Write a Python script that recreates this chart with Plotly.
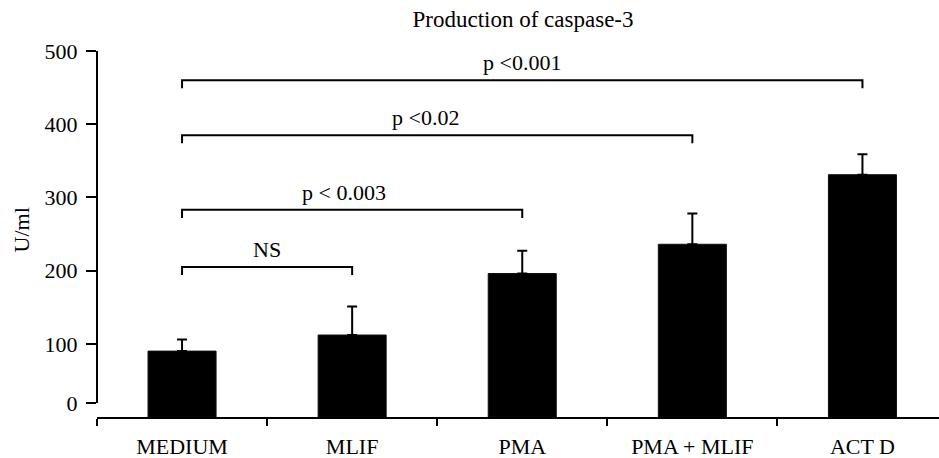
import plotly.graph_objects as go

categories = ["MEDIUM", "MLIF", "PMA", "PMA + MLIF", "ACT D"]
means = [90, 112, 196, 236, 331]
errors = [16, 39, 31, 42, 28]

y_tick_values = [0, 100, 200, 300, 400, 500]
y_tick_labels = ["0", "100", "200", "300", "400", "500"]

# significance brackets: (from index, to index, level, label)
bracket_from = [0, 0, 0, 0]
bracket_to = [1, 2, 3, 4]
bracket_level = [205, 283, 385, 460]
bracket_label = ["NS", "p < 0.003", "p <0.02", "p <0.001"]
label_xshift = [0, -8, -12, 0]

FONT = "Liberation Serif"
ZERO_OFFSET = 19   # Prism-style offset of the 0 tick
DROP = 11

fig = go.Figure()
fig.add_trace(go.Bar(
    x=categories, y=means, width=0.4,
    marker=dict(color="black", line=dict(color="#111", width=1)),
    error_y=dict(type="data", array=errors, arrayminus=[0]*len(errors),
                 symmetric=False, color="black", thickness=2, width=5),
    showlegend=False, hoverinfo="skip",
))

for f, t, lvl, lab, xs in zip(bracket_from, bracket_to, bracket_level,
                               bracket_label, label_xshift):
    fig.add_trace(go.Scatter(
        x=[categories[f], categories[f], categories[t], categories[t]],
        y=[lvl - DROP, lvl, lvl, lvl - DROP],
        mode="lines", line=dict(color="black", width=2),
        showlegend=False, hoverinfo="skip",
    ))
    fig.add_annotation(x=(f + t) / 2, y=lvl, text=lab, showarrow=False,
                       yanchor="bottom", yshift=3, xshift=xs,
                       font=dict(family=FONT, size=22, color="black"))

# y axis line (offset from x axis)
fig.add_shape(type="line", xref="paper", yref="y", x0=0, x1=0,
              y0=ZERO_OFFSET, y1=max(y_tick_values),
              line=dict(color="black", width=2))

fig.add_annotation(xref="paper", yref="paper", x=0, y=0.511, xshift=-90,
                   text="U/ml", textangle=-90, showarrow=False,
                   font=dict(family=FONT, size=22, color="black"))

tickvals = [v if v != 0 else ZERO_OFFSET for v in y_tick_values]

fig.update_layout(
    width=939, height=458,
    margin=dict(l=97, r=0, t=51, b=41),
    paper_bgcolor="white", plot_bgcolor="white",
    font=dict(family=FONT, size=22, color="black"),
    title=dict(text="Production of caspase-3", x=0.557, xanchor="center",
               y=0.958, yanchor="middle",
               font=dict(family=FONT, size=23, color="black")),
    xaxis=dict(type="category", range=[-0.5, 4.45], showline=True,
               linecolor="black", linewidth=2, ticks="outside",
               tickson="boundaries", ticklen=7, tickwidth=2,
               tickcolor="black", showgrid=False, automargin=False,
               ticklabelstandoff=9,
               tickfont=dict(family=FONT, size=22, color="black")),
    yaxis=dict(range=[0, 500], showline=False, showgrid=False,
               zeroline=False, ticks="outside", ticklen=10, tickwidth=2,
               tickcolor="black", tickvals=tickvals, ticktext=y_tick_labels,
               automargin=False, ticklabelstandoff=4,
               tickfont=dict(family=FONT, size=22, color="black")),
)

fig.write_html("out.html")
